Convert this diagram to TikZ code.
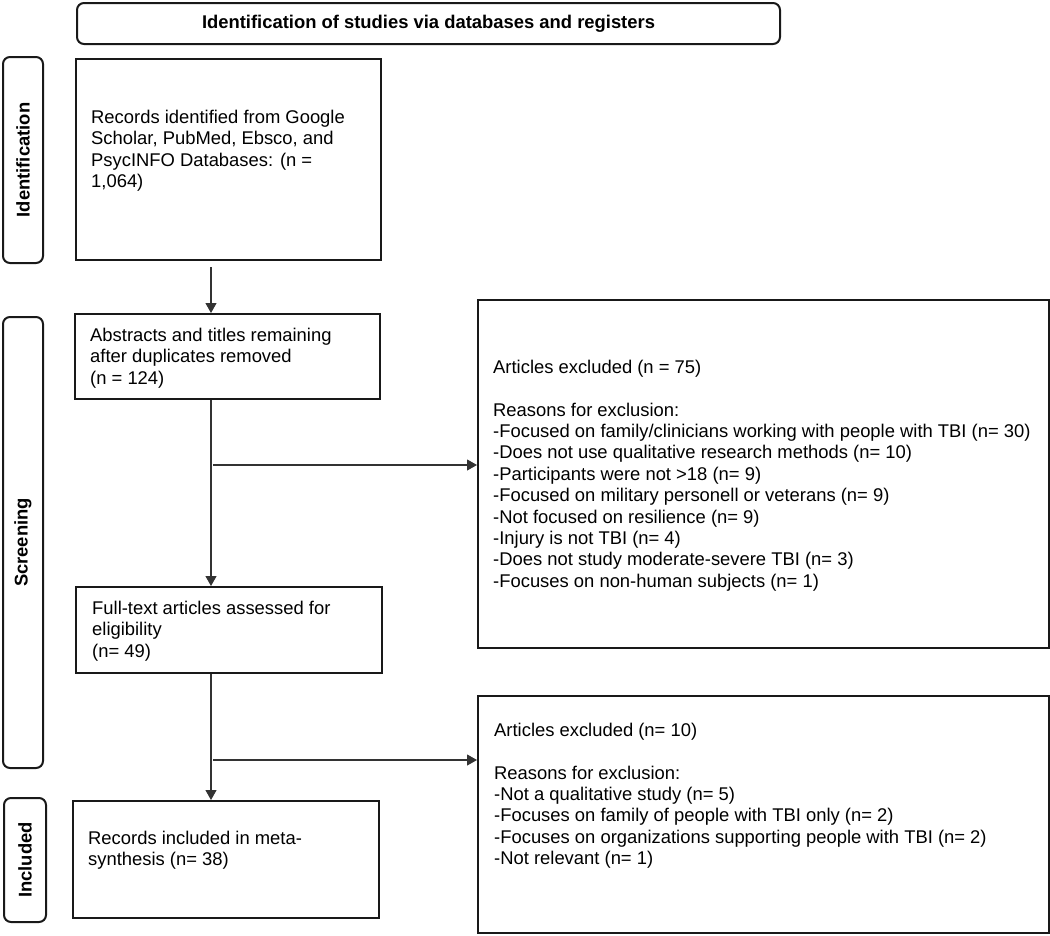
\documentclass[tikz,border=0pt]{standalone}
\usepackage{fontspec}
\setmainfont{Liberation Sans}
\usetikzlibrary{arrows.meta,calc}
\newcommand\bodyfont{\fontsize{18.4}{21.4}\selectfont}
\newcommand\fls{\rule{0pt}{14pt}}
\begin{document}
\begin{tikzpicture}[x=1pt,y=-1pt,
  box/.style={draw=black!90,line width=2pt,inner sep=0pt,rectangle,anchor=north west},
  sidebox/.style={draw=black!90,line width=2pt,inner sep=0pt,rectangle,rounded corners=7pt,rotate=90,font=\bfseries\bodyfont},
  titlebox/.style={draw=black!90,line width=2pt,inner sep=0pt,rectangle,rounded corners=7pt,anchor=north west,font=\bfseries\bodyfont},
  txt/.style={anchor=north west,inner sep=0pt,align=left,font=\bodyfont},
  arr/.style={draw=black!80,line width=1.1pt,-{Triangle[width=11pt,length=10pt]}}]
\useasboundingbox (0,0) rectangle (1050,935);

% title and side labels
\node[titlebox,minimum width=703pt,minimum height=41pt] (title) at (76,2) {Identification of studies via databases and registers};
\node[sidebox,minimum width=206pt,minimum height=40pt] (sideI) at (23,160) {Identification};
\node[sidebox,minimum width=451pt,minimum height=40pt] (sideS) at (23,542.5) {Screening};
\node[sidebox,minimum width=124pt,minimum height=42pt] (sideN) at (25,860) {Included};

% main boxes
\node[box,minimum width=305pt,minimum height=201pt] (b1) at (75,58) {};
\node[box,minimum width=305pt,minimum height=85pt] (b2) at (74,313) {};
\node[box,minimum width=306pt,minimum height=86pt] (b3) at (75,586) {};
\node[box,minimum width=306pt,minimum height=117pt] (b4) at (72,800) {};
\node[box,minimum width=571pt,minimum height=348pt] (b5) at (477,299) {};
\node[box,minimum width=571pt,minimum height=237pt] (b6) at (477,695) {};

% texts
\node[txt] (t1) at (91,109) {\fls Records identified from Google\\Scholar, PubMed, Ebsco, and\\PsycINFO Databases: (n =\\1,064)};
\node[txt] (t2) at (90,327) {\fls Abstracts and titles remaining\\after duplicates removed\\(n = 124)};
\node[txt] (t3) at (92,600) {\fls Full-text articles assessed for\\eligibility\\(n= 49)};
\node[txt] (t4) at (88,830) {\fls Records included in meta-\\synthesis (n= 38)};
\node[txt] (t5) at (493,359) {\fls Articles excluded (n = 75)\\[21.4pt]
Reasons for exclusion:\\
-Focused on family/clinicians working with people with TBI (n= 30)\\
-Does not use qualitative research methods (n= 10)\\
-Participants were not >18 (n= 9)\\
-Focused on military personell or veterans (n= 9)\\
-Not focused on resilience (n= 9)\\
-Injury is not TBI (n= 4)\\
-Does not study moderate-severe TBI (n= 3)\\
-Focuses on non-human subjects (n= 1)};
\node[txt] (t6) at (494,722) {\fls Articles excluded (n= 10)\\[21.4pt]
Reasons for exclusion:\\
-Not a qualitative study (n= 5)\\
-Focuses on family of people with TBI only (n= 2)\\
-Focuses on organizations supporting people with TBI (n= 2)\\
-Not relevant (n= 1)};

% connectors
\coordinate (sp) at (211,0);
\coordinate (j1) at (213,465);
\coordinate (j2) at (213,760);
\draw[arr] ([yshift=-6pt]b1.south -| sp) -- (b2.north -| sp);
\draw[arr] (b2.south -| sp) -- (b3.north -| sp);
\draw[arr] (b3.south -| sp) -- (b4.north -| sp);
\draw[arr] (j1) -- (j1 -| b5.west);
\draw[arr] (j2) -- (j2 -| b6.west);
\end{tikzpicture}
\end{document}
